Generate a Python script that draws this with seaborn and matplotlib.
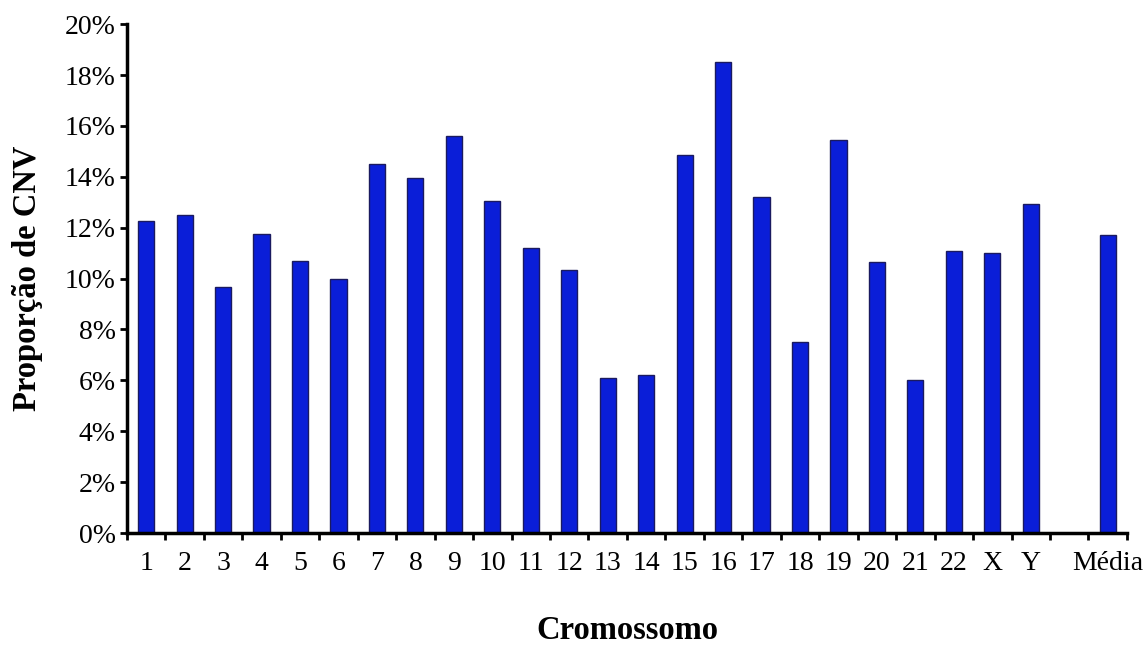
import numpy as np
import pandas as pd
import matplotlib
matplotlib.use("Agg")
import matplotlib.pyplot as plt
import seaborn as sns
from matplotlib.ticker import PercentFormatter, FixedLocator

# Data (percent of CNV per chromosome)
chromosomes = ['1', '2', '3', '4', '5', '6', '7', '8', '9', '10', '11', '12', '13',
               '14', '15', '16', '17', '18', '19', '20', '21', '22', 'X', 'Y', 'Média']
proportion = [12.25, 12.5, 9.65, 11.75, 10.7, 10.0, 14.5, 13.95, 15.6, 13.05, 11.2, 10.35, 6.1,
              6.2, 14.85, 18.5, 13.2, 7.5, 15.45, 10.65, 6.0, 11.1, 11.0, 12.95, 11.7]
# slot order on the x axis: an empty slot sits between Y and Média
order = chromosomes[:-1] + [' '] + ['Média']

df = pd.DataFrame({'Cromossomo': chromosomes, 'Proporcao': proportion})

sns.set_style("white")
plt.rcParams['font.family'] = ['Liberation Serif', 'DejaVu Serif']

fig = plt.figure(figsize=(11.48, 6.45), dpi=100)
ax = fig.add_axes([0.1106, 0.1736, 0.871, 0.789])

sns.barplot(data=df, x='Cromossomo', y='Proporcao', order=order, ax=ax,
            color='#0A1ED8', saturation=1, width=0.42,
            edgecolor='#1a1a60', linewidth=1.0)

ax.set_xlim(-0.5, len(order) - 0.5)
ax.set_ylim(0, 20)
ax.yaxis.set_major_locator(FixedLocator(np.arange(0, 21, 2)))
ax.yaxis.set_major_formatter(PercentFormatter(decimals=0))

# tick marks between categories, labels centred under bars
ax.xaxis.set_minor_locator(FixedLocator(np.arange(-0.5, len(order), 1.0)))
ax.tick_params(axis='x', which='both', bottom=True)
ax.tick_params(axis='y', which='both', left=True)
ax.tick_params(axis='x', which='major', length=0, labelsize=20, pad=13, labelcolor='black')
ax.tick_params(axis='x', which='minor', length=5, width=2, direction='out', color='black')
ax.tick_params(axis='y', which='major', length=5, width=2, direction='out', labelsize=20,
               color='black', labelcolor='black', pad=3)

for s in ['top', 'right']:
    ax.spines[s].set_visible(False)
for s in ['left', 'bottom']:
    ax.spines[s].set_linewidth(2.5)
    ax.spines[s].set_color('black')

ax.set_xlabel('Cromossomo', fontsize=23.5, fontweight='bold', labelpad=28, color='black')
ax.set_ylabel('Proporção de CNV', fontsize=23.5, fontweight='bold', labelpad=16, color='black')

fig.savefig('out.png', dpi=100, facecolor='white')
